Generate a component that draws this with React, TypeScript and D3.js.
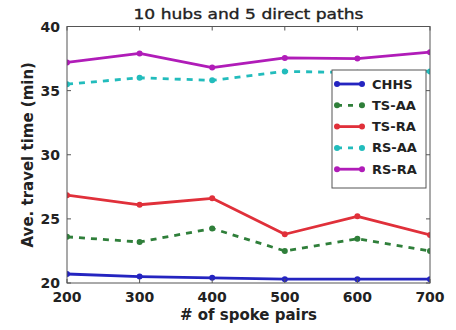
import React from "react";
import * as d3 from "d3";

const spokePairs = [200, 300, 400, 500, 600, 700];
const chhs = [20.7, 20.5, 20.4, 20.3, 20.3, 20.3];
const tsAA = [23.6, 23.2, 24.25, 22.5, 23.45, 22.5];
const tsRA = [26.85, 26.1, 26.6, 23.8, 25.2, 23.75];
const rsAA = [35.5, 36.0, 35.8, 36.5, 36.4, 36.5];
const rsRA = [37.2, 37.9, 36.8, 37.55, 37.5, 38.0];
const xTicks = [200, 300, 400, 500, 600, 700];
const yTicks = [20, 25, 30, 35, 40];

const series = [
  { name: "CHHS", values: chhs, color: "#2424c0", dash: "" },
  { name: "TS-AA", values: tsAA, color: "#2f7f3a", dash: "6,6" },
  { name: "TS-RA", values: tsRA, color: "#e0303a", dash: "" },
  { name: "RS-AA", values: rsAA, color: "#22bcbc", dash: "6,6" },
  { name: "RS-RA", values: rsRA, color: "#b01cb8", dash: "" },
];

const W = 456;
const H = 330;
const m = { left: 67, right: 430, top: 26.5, bottom: 283 };
const font = "'DejaVu Sans', sans-serif";

export default function App() {
  const x = d3.scaleLinear().domain([200, 700]).range([m.left, m.right]);
  const y = d3.scaleLinear().domain([20, 40]).range([m.bottom, m.top]);
  const line = d3
    .line<number>()
    .x((_, i) => x(spokePairs[i]))
    .y((d) => y(d));

  const legendX = 332;
  const legendY = 70;
  const legendRow = 21.3;

  return (
    <svg
      width={W}
      height={H}
      style={{ position: "absolute", left: 0, top: 0, background: "#fff" }}
      fontFamily={font}
    >
      <defs>
        <clipPath id="plot">
          <rect x={m.left} y={m.top} width={m.right - m.left} height={m.bottom - m.top} />
        </clipPath>
      </defs>
      <rect x={0} y={0} width={W} height={H} fill="#fff" />

      <g clipPath="url(#plot)">
        {series.map((s) => (
          <g key={s.name}>
            <path
              d={line(s.values) || ""}
              fill="none"
              stroke={s.color}
              strokeWidth={2.8}
              strokeDasharray={s.dash}
              strokeLinejoin="round"
            />
            {s.values.map((v, i) => (
              <circle key={i} cx={x(spokePairs[i])} cy={y(v)} r={3} fill={s.color} />
            ))}
          </g>
        ))}
      </g>

      <rect
        x={m.left}
        y={m.top}
        width={m.right - m.left}
        height={m.bottom - m.top}
        fill="none"
        stroke="#555"
        strokeWidth={1}
      />

      {/* ticks point inward */}
      {xTicks.map((t) => (
        <g key={"x" + t}>
          <line x1={x(t)} x2={x(t)} y1={m.bottom} y2={m.bottom - 4} stroke="#555" />
          <line x1={x(t)} x2={x(t)} y1={m.top} y2={m.top + 4} stroke="#555" />
          <text
            x={x(t)}
            y={302}
            textAnchor="middle"
            fontSize={14}
            fontWeight="bold"
            fill="#222"
          >
            {t}
          </text>
        </g>
      ))}
      {yTicks.map((t) => (
        <g key={"y" + t}>
          <line x1={m.left} x2={m.left + 4} y1={y(t)} y2={y(t)} stroke="#555" />
          <line x1={m.right} x2={m.right - 4} y1={y(t)} y2={y(t)} stroke="#555" />
          <text
            x={m.left - 7}
            y={y(t) + 5}
            textAnchor="end"
            fontSize={14}
            fontWeight="bold"
            fill="#222"
          >
            {t}
          </text>
        </g>
      ))}

      <text
        x={(m.left + m.right) / 2}
        y={18.5}
        textAnchor="middle"
        fontSize={14.5}
        textLength={230}
        lengthAdjust="spacingAndGlyphs"
        fill="#222"
        stroke="#222"
        strokeWidth={0.35}
      >
        10 hubs and 5 direct paths
      </text>
      <text
        x={(m.left + m.right) / 2}
        y={320}
        textAnchor="middle"
        fontSize={15}
        fontWeight="bold"
        fill="#222"
      >
        # of spoke pairs
      </text>
      <text
        transform={`translate(33,${(m.top + m.bottom) / 2}) rotate(-90)`}
        textAnchor="middle"
        fontSize={15}
        fontWeight="bold"
        fill="#222"
      >
        Ave. travel time (min)
      </text>

      {/* legend */}
      <rect
        x={legendX}
        y={legendY}
        width={94}
        height={118}
        fill="#fff"
        stroke="#555"
        strokeWidth={1}
      />
      {series.map((s, i) => {
        const cy = legendY + 14 + i * legendRow;
        return (
          <g key={"lg" + s.name}>
            <line
              x1={legendX + 5}
              x2={legendX + 30}
              y1={cy}
              y2={cy}
              stroke={s.color}
              strokeWidth={2.8}
              strokeDasharray={s.dash ? "5,6" : ""}
            />
            <circle cx={legendX + 5} cy={cy} r={3} fill={s.color} />
            <circle cx={legendX + 30} cy={cy} r={3} fill={s.color} />
            <text x={legendX + 40} y={cy + 4.5} fontSize={13} fontWeight="bold" fill="#222">
              {s.name}
            </text>
          </g>
        );
      })}
    </svg>
  );
}
